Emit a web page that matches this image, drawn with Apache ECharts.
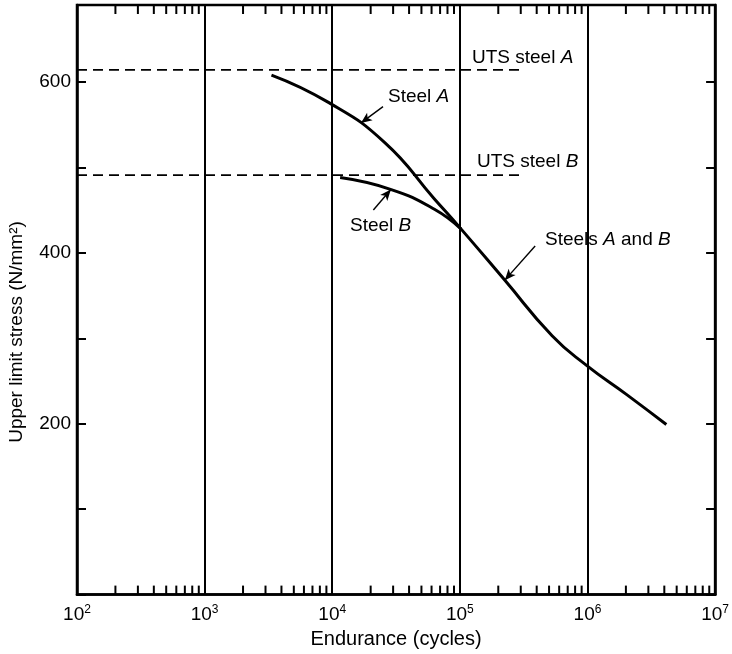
<!DOCTYPE html>
<html><head><meta charset="utf-8">
<script src="https://cdn.jsdelivr.net/npm/echarts@6/dist/echarts.min.js"></script>
<style>html,body{margin:0;padding:0;background:#fff}#c{width:732px;height:654px}</style>
</head><body><div id="c"></div>
<script>
// ---- data ----
const steelA = [[3340,608],[9340,576],[25800,529],[63200,463],[102000,428]];
const steelsAB = [[102000,428],[222000,369],[528000,303],[989000,268],[2030000,234],[4150000,199]];
const steelB = [[11530,488],[29000,474],[63200,451],[102000,428]];
const utsA = [[100,614],[320000,614]];
const utsB = [[100,491],[320000,491]];
const minorMultipliers = [2,3,4,5,6,7,8,9];
const decadeStarts = [1e2,1e3,1e4,1e5,1e6];
const arrowA = [[25000,571],[16800,552]];
const arrowB = [[21000,450],[28800,474]];
const arrowAB = [[389000,408],[225000,368]];
const Y_MIN = 0, Y_MAX = 690;

const minorTickValues = [];
decadeStarts.forEach(d => minorMultipliers.forEach(m => minorTickValues.push([m*d, 0])));

const FONT = 'Liberation Sans';
const chart = echarts.init(document.getElementById('c'), null, {renderer:'canvas'});

function arrowLine(pts){
  return [{coord: pts[0], symbol:'none'}, {coord: pts[1], symbol:'arrow'}];
}
const arrowStyle = {silent:true, symbolSize:[7,11], lineStyle:{color:'#000',width:1.4,type:'solid'}, label:{show:false}};

const option = {
  animation:false,
  backgroundColor:'#fff',
  textStyle:{fontFamily:FONT, color:'#000'},
  grid:{left:77,right:13,top:5,bottom:57,show:true,borderColor:'#000',borderWidth:2.5,backgroundColor:'transparent'},
  xAxis:[{
    type:'log', logBase:10, min:100, max:1e7,
    axisLine:{show:true,lineStyle:{color:'#000',width:2.5}},
    axisTick:{show:false},
    splitLine:{show:true,lineStyle:{color:'#000',width:2}},
    axisLabel:{
      color:'#000', fontFamily:FONT, fontSize:19, margin:9,
      formatter:function(v){ const e=Math.round(Math.log10(v)); return '10{s|'+e+'}'; },
      rich:{s:{fontSize:12, fontFamily:FONT, color:'#000', padding:[0,0,10,0]}}
    },
    name:'Endurance (cycles)', nameLocation:'middle', nameGap:25,
    nameTextStyle:{fontFamily:FONT,fontSize:20,color:'#000',verticalAlign:'top'}
  }],
  yAxis:[{
    type:'value', min:Y_MIN, max:Y_MAX, interval:100, position:'left',
    axisLine:{show:true,lineStyle:{color:'#000',width:2.5}},
    axisTick:{show:true,inside:true,length:9,lineStyle:{color:'#000',width:2}},
    splitLine:{show:false},
    axisLabel:{color:'#000',fontFamily:FONT,fontSize:19,margin:6,
      formatter:function(v){ return (v>0 && v%200===0 && v<=600)? String(v):''; }}
  },{
    type:'value', min:Y_MIN, max:Y_MAX, interval:100, position:'right',
    axisLine:{show:true,lineStyle:{color:'#000',width:2.5}},
    axisTick:{show:true,inside:true,length:9,lineStyle:{color:'#000',width:2}},
    splitLine:{show:false}, axisLabel:{show:false}
  }],
  series:[
    {type:'line', data:utsA, showSymbol:false, lineStyle:{color:'#000',width:1.8,type:[10,6]}},
    {type:'line', data:utsB, showSymbol:false, lineStyle:{color:'#000',width:1.8,type:[10,6]}},
    {type:'line', data:steelA.concat(steelsAB.slice(1)), smooth:0.5, showSymbol:false, lineStyle:{color:'#000',width:3},
      markLine:Object.assign({data:[arrowLine(arrowA), arrowLine(arrowAB)]}, arrowStyle)},
    {type:'line', data:steelB, smooth:0.5, showSymbol:false, lineStyle:{color:'#000',width:3},
      markLine:Object.assign({data:[arrowLine(arrowB)]}, arrowStyle)},
    {type:'custom', data:minorTickValues, encode:{x:0,y:1}, clip:false, silent:true,
      renderItem:function(params, api){
        const b = api.coord([api.value(0), Y_MIN]);
        const t = api.coord([api.value(0), Y_MAX]);
        return {type:'group', children:[
          {type:'line', shape:{x1:b[0],y1:b[1],x2:b[0],y2:b[1]-9}, style:{stroke:'#000',lineWidth:2}},
          {type:'line', shape:{x1:t[0],y1:t[1],x2:t[0],y2:t[1]+9}, style:{stroke:'#000',lineWidth:2}}
        ]};
      }}
  ]
};
chart.setOption(option);

const FS = 19;
const rich = {i:{fontFamily:FONT,fontSize:FS,fontStyle:'italic',color:'#000'}, n:{fontFamily:FONT,fontSize:FS,color:'#000'}};
function label(text, x, y){
  return {type:'text', x:x, y:y, style:{text:text, rich:rich, fill:'#000', verticalAlign:'middle', align:'left'}};
}
chart.setOption({graphic:[
  label('{n|UTS steel }{i|A}', 472, 58),
  label('{n|UTS steel }{i|B}', 477, 162),
  label('{n|Steel }{i|A}', 388, 97),
  label('{n|Steel }{i|B}', 350, 226),
  label('{n|Steels }{i|A}{n| and }{i|B}', 545, 240),
  {type:'text', x:17, y:332, rotation:Math.PI/2,
   style:{text:'Upper limit stress (N/mm²)', fontFamily:FONT, fontSize:19, fill:'#000', align:'center', verticalAlign:'middle'}}
]});
</script></body></html>
